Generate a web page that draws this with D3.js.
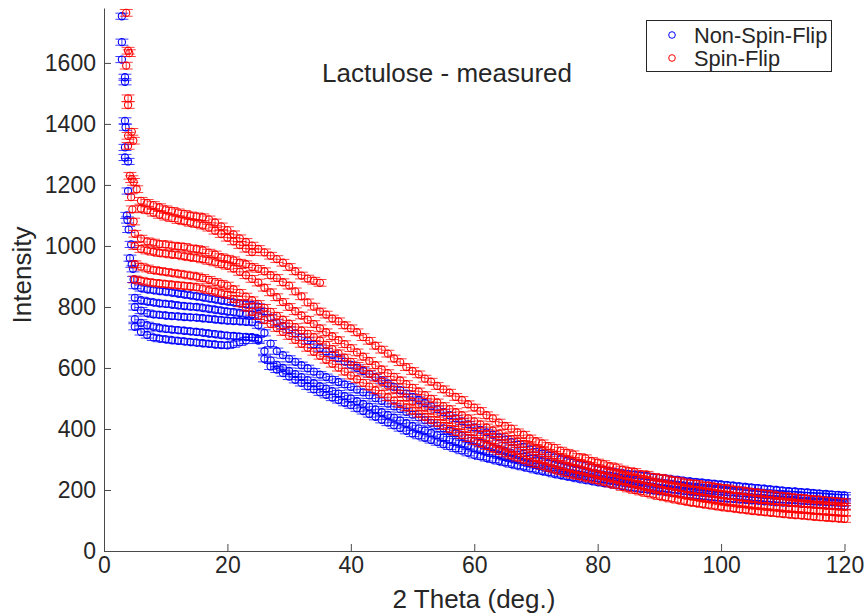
<!DOCTYPE html>
<html>
<head>
<meta charset="utf-8">
<script src="https://cdn.jsdelivr.net/npm/d3@7"></script>
<style>
  body { margin: 0; background: #fff; }
  text { font-family: "Liberation Sans", Arial, Helvetica, sans-serif; fill: #262626; }
</style>
</head>
<body>
<div id="chart"></div>
<script>
// ---- data (2 Theta in deg, one value per degree) ----
const xTicks = [0, 20, 40, 60, 80, 100, 120];
const yTicks = [0, 200, 400, 600, 800, 1000, 1200, 1400, 1600];

// low-angle spike, explicit points
const nsfSpikeTheta = [2.9, 2.9, 2.9, 3.4, 3.4, 3.4, 3.5, 3.4, 3.4, 3.9, 3.9, 3.7, 3.8, 4.0, 4.4, 4.2, 4.7, 4.8, 4.5];
const nsfSpikeI     = [1753, 1668, 1611, 1553, 1538, 1410, 1389, 1323, 1290, 1277, 1180, 1100, 1085, 1054, 1005, 960, 925, 890, 940];
const sfSpikeTheta  = [3.6, 3.9, 4.1, 3.6, 3.9, 3.9, 4.5, 3.9, 4.75, 3.9, 4.2, 4.5, 4.8, 5.3, 4.4, 4.6, 4.8];
const sfSpikeI      = [1764, 1640, 1632, 1591, 1484, 1462, 1374, 1361, 1345, 1328, 1230, 1219, 1210, 1186, 1160, 1120, 1080];

// Non-Spin-Flip detector bands
const nsfA = [870,862,858,855,852,850,847,844,841,838, 835,832,828,825,821,818,815,812,809,806,
  800,785,765,748,737,725,713,701,689,677, 665,654,643,632,621,610,600,590,580,570,
  560,549,538,527,516,505,495,485,475,465, 455,445,435,425,415,405,397,389,381,373,
  365,357,349,341,333,325,319,313,307,301, 295,290,284,279,273,268,265,261,258,255,
  252,250,247,245,242,240,238,235,233,230, 228,226,224,222,220,218,216,214,212,210,
  208,206,204,202,200,198,196,195,193,192, 190,188,187,185,184,182];            // 5..120
const nsfA2 = [830,822,818,815,812,810,808,805,803,801,800,797,794,791,788,785,783,780,777,775,770]; // 5..25
const nsfB = [800,788,780,776,774,772,770,769,767,766, 765,763,761,759,757,755,754,753,751,750,
  740,715,680,655,642,630,620,609,599,588, 578,570,562,554,546,538,529,520,510,501,
  492,483,474,465,456,447,438,429,420,411, 402,394,386,378,370,362,355,348,341,334,
  327,321,315,309,303,297,292,287,282,277, 272,268,264,260,256,252,249,246,242,239,
  236,234,231,229,226,224,222,219,217,214, 212,210,208,206,204,202,200,198,197,195,
  193,192,190,189,187,186,185,184,182,181, 180,179,178,176,175,174];            // 5..120
const nsfC = [760,748,740,735,731,728,726,724,722,720, 718,716,713,711,708,706,705,703,702,700,
  690,655,625,610,600,590,580,570,560,550, 540,532,524,516,508,500,491,482,473,464,
  455,446,437,428,419,410,402,395,387,380, 372,365,358,352,345,338,332,326,320,314,
  308,303,298,292,287,282,277,272,268,263, 258,254,250,246,242,238,235,231,228,224,
  221,218,215,213,210,207,205,202,200,197, 195,193,191,189,187,185,183,181,180,178,
  176,175,173,172,170,169,168,167,165,164, 163,162,161,160,159,158];            // 5..120
const nsfD = [735,718,708,700,696,694,691,689,687,685, 683,681,679,677,675,674,678,684,690,700,
  695,630,605,595,583,572,561,551,540,530, 520,512,503,495,486,478,468,459,449,440,
  430,421,412,403,394,385,378,371,364,357, 350,343,336,329,322,315,310,305,300,295,
  290,285,280,276,271,266,262,258,253,249, 245,241,237,233,230,226,223,220,216,213,
  210,207,204,202,199,196,194,191,189,186, 184,182,180,178,176,174,172,171,169,168,
  166,165,163,162,160,159,158,157,155,154, 153,152,150,149,148,147];            // 5..120

// Spin-Flip detector bands
const sfA = [1148,1141,1134,1127,1120,1115,1110,1105,1100,1097,1094,1087,1077,1064,1052,
  1038,1025,1013,1001,990,979,968,957,945,931,917,903,893,886,879];             // 6..35
const sfA2 = [1122,1117,1109,1102,1096,1091,1085,1081,1076,1072,1067,1060,1050,1039,1027,1015,1003,991,980]; // 6..24
const sfB = [1040,1024,1015,1011,1006,1005,1001,999,997,992, 990,986,978,972,963,958,953,945,940,931,
  925,917,904,895,881,870,851,835,815,801, 785,775,762,753,740,730,717,701,689,673,
  660,647,631,619,603,590,579,565,555,541, 530,519,505,495,481,470,459,445,435,421,
  410,401,389,381,369,360,353,344,338,329, 322,317,308,304,295,290,285,278,274,267,
  262,259,252,250,243,240,237,232,230,225, 222,220,215,214,210,207,205,201,199,196,
  193,191,188,186,182,180,178,175,174,171, 169,168,165,164,162,160];            // 5..120
const sfC = [1000,990,985,981,977,975,972,970,966,963, 960,956,951,946,940,935,926,915,904,892,
  880,863,848,832,816,800,786,772,758,744, 730,717,704,691,678,665,651,637,623,609,
  595,583,571,559,547,535,523,511,499,487, 475,465,455,445,435,425,415,405,395,385,
  375,367,359,351,343,335,328,321,314,307, 300,294,289,283,278,272,267,261,256,250,
  245,241,236,232,227,222,218,214,210,206, 202,199,196,192,189,186,183,180,178,175,
  172,170,168,166,164,162,160,158,156,154, 152,151,149,148,146,145];            // 5..120
const sfD = [940,932,926,921,918,915,912,909,906,903, 900,895,889,882,876,870,858,846,834,822,
  810,797,784,771,758,745,734,723,712,701, 690,676,662,648,634,620,607,594,581,568,
  555,542,529,516,503,490,480,470,460,450, 440,430,420,410,400,390,381,372,363,354,
  345,337,329,321,313,305,299,293,287,281, 275,270,265,260,255,250,245,240,235,230,
  225,220,215,210,205,200,196,192,188,184, 180,177,173,170,166,163,160,158,155,153,
  150,148,146,144,142,140,138,137,135,134, 132,131,129,128,126,125];            // 5..120
const sfE = [890,886,882,879,877,875,873,871,869,867, 865,860,855,850,845,840,826,812,798,784,
  770,757,744,731,718,705,692,679,666,653, 640,627,614,601,588,575,563,551,539,527,
  515,504,493,482,471,460,450,440,430,420, 410,400,390,380,370,360,352,344,336,328,
  320,313,306,299,292,285,279,273,267,261, 255,250,246,241,237,232,227,221,216,210,
  205,200,195,190,185,180,176,172,168,164, 160,157,154,151,148,145,142,140,137,135,
  132,130,128,126,124,122,120,118,117,115, 113,111,110,108,107,105];            // 5..120

const nsfBandStart = [5, 5, 5, 5, 5];
const sfBandStart  = [6, 6, 5, 5, 5, 5];
const seriesErr = [10, 11];   // error bar half-height, NSF / SF
const seriesNames = ["Non-Spin-Flip", "Spin-Flip"];
const seriesColors = ["#0000ff", "#ff0000"];

// ---- build point lists ----
function bandPoints(start, vals) {
  return vals.map((v, i) => ({ t: start + i, v: v }));
}
function spikePoints(ts, vs) {
  return ts.map((t, i) => ({ t: t, v: vs[i] }));
}
const nsfPts = [].concat(
  spikePoints(nsfSpikeTheta, nsfSpikeI),
  ...[nsfA, nsfA2, nsfB, nsfC, nsfD].map((b, i) => bandPoints(nsfBandStart[i], b))
);
const sfPts = [].concat(
  spikePoints(sfSpikeTheta, sfSpikeI),
  ...[sfA, sfA2, sfB, sfC, sfD, sfE].map((b, i) => bandPoints(sfBandStart[i], b))
);

// ---- chart ----
const width = 868, height = 615;
const x = d3.scaleLinear().domain([0, 120]).range([104, 844.5]);
const y = d3.scaleLinear().domain([0, 1780]).range([551, 8]);

const svg = d3.select("#chart").append("svg")
  .attr("width", width)
  .attr("height", height)
  .style("background", "#fff");

const capW = 6.5, markR = 3.6;

function drawSeries(pts, color, err) {
  const g = svg.append("g");
  // error bars
  g.selectAll("path.eb")
    .data(pts)
    .enter()
    .append("path")
    .attr("class", "eb")
    .attr("d", d => {
      const cx = x(d.t), y1 = y(d.v - err), y2 = y(d.v + err);
      return `M${cx},${y1}V${y2}M${cx - capW},${y1}H${cx + capW}M${cx - capW},${y2}H${cx + capW}`;
    })
    .attr("fill", "none")
    .attr("stroke", color)
    .attr("stroke-opacity", 0.75)
    .attr("stroke-width", 1);
  // markers
  g.selectAll("circle")
    .data(pts)
    .enter()
    .append("circle")
    .attr("cx", d => x(d.t))
    .attr("cy", d => y(d.v))
    .attr("r", markR)
    .attr("fill", "none")
    .attr("stroke", color)
    .attr("stroke-width", 1.1);
}

drawSeries(nsfPts, seriesColors[0], seriesErr[0]);
drawSeries(sfPts, seriesColors[1], seriesErr[1]);

// axes, ticks pointing inward
const xAxis = svg.append("g")
  .attr("transform", "translate(0,551)")
  .call(d3.axisBottom(x).tickValues(xTicks).tickSizeInner(-7).tickSizeOuter(0).tickPadding(6));
const yAxis = svg.append("g")
  .attr("transform", "translate(104,0)")
  .call(d3.axisLeft(y).tickValues(yTicks).tickFormat(d3.format("d"))
    .tickSizeInner(-7).tickSizeOuter(0).tickPadding(8));

[xAxis, yAxis].forEach(a => {
  a.selectAll("path, line").attr("stroke", "#4a4a4a").attr("stroke-width", 1);
  a.selectAll("text").attr("font-size", 23).attr("fill", "#262626")
    .style("font-family", '"Liberation Sans", Arial, sans-serif');
});

// labels
svg.append("text")
  .attr("x", 474).attr("y", 608)
  .attr("text-anchor", "middle")
  .attr("font-size", 26)
  .text("2 Theta (deg.)");

svg.append("text")
  .attr("transform", "translate(31,275) rotate(-90)")
  .attr("text-anchor", "middle")
  .attr("font-size", 26)
  .text("Intensity");

svg.append("text")
  .attr("x", 447).attr("y", 82)
  .attr("text-anchor", "middle")
  .attr("font-size", 26)
  .attr("fill", "#000")
  .text("Lactulose - measured");

// legend
const lg = svg.append("g");
lg.append("rect")
  .attr("x", 646.5).attr("y", 20.5)
  .attr("width", 185).attr("height", 51)
  .attr("fill", "#fff")
  .attr("stroke", "#262626")
  .attr("stroke-width", 1);
seriesNames.forEach((name, i) => {
  const ly = 35 + i * 23;
  lg.append("circle")
    .attr("cx", 672).attr("cy", ly).attr("r", 3.3)
    .attr("fill", "none").attr("stroke", seriesColors[i]).attr("stroke-width", 1);
  lg.append("text")
    .attr("x", 694).attr("y", ly)
    .attr("dy", "0.35em")
    .attr("font-size", 21.8)
    .attr("fill", "#000")
    .text(name);
});
</script>
</body>
</html>
